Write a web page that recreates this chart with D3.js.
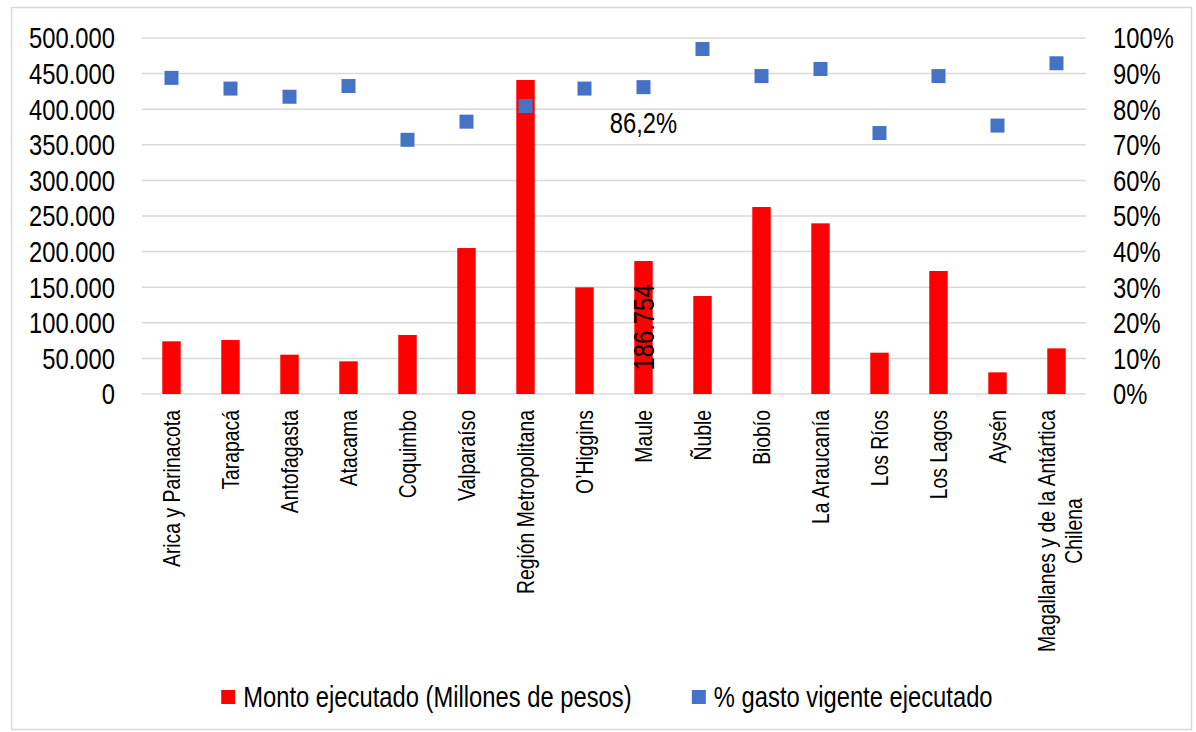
<!DOCTYPE html>
<html>
<head>
<meta charset="utf-8">
<title>Monto ejecutado y % de gasto vigente por región</title>
<script src="https://cdn.jsdelivr.net/npm/d3@7"></script>
<style>
  body { margin: 0; background: #fff; }
  svg text { font-family: "Liberation Sans", Arial, sans-serif; fill: #000; }
</style>
</head>
<body>
<svg width="1196" height="732"></svg>
<script>
// datos
var regiones = ["Arica y Parinacota", "Tarapacá", "Antofagasta", "Atacama", "Coquimbo", "Valparaíso",
  "Región Metropolitana", "O’Higgins", "Maule", "Ñuble", "Biobío", "La Araucanía", "Los Ríos",
  "Los Lagos", "Aysén", "Magallanes y de la Antártica Chilena"];
var montoEjecutado = [74000, 75800, 55200, 45900, 82900, 205000, 441000, 149800, 186754,
  137600, 262600, 239700, 58000, 172800, 30400, 64100];
var pctEjecutado = [0.888, 0.858, 0.835, 0.865, 0.714, 0.765, 0.809, 0.858, 0.862,
  0.969, 0.893, 0.913, 0.733, 0.893, 0.754, 0.929];
var ticksMonto = [0, 50000, 100000, 150000, 200000, 250000, 300000, 350000, 400000, 450000, 500000];
var ticksPct = [0, 0.1, 0.2, 0.3, 0.4, 0.5, 0.6, 0.7, 0.8, 0.9, 1];
var series = ["Monto ejecutado (Millones de pesos)", "% gasto vigente ejecutado"];
var regionEtiquetada = "Maule";   // solo esta region lleva etiquetas de datos

var rojo = "#ff0000", azul = "#4472c4", gris = "#d9d9d9";
var angosto = 0.82;   // no hay Arial Narrow: se comprime Liberation Sans a lo ancho

var svg = d3.select("svg");

// pasa x,y del texto a un translate y lo comprime a lo largo de su linea base
function estrecho(sel) {
  sel.each(function() {
    var t = d3.select(this);
    var tx = +t.attr("x") || 0, ty = +t.attr("y") || 0;
    var prev = t.attr("transform") || "";
    t.attr("x", 0).attr("y", 0)
     .attr("transform", prev + " translate(" + tx + "," + ty + ") scale(" + angosto + ",1)");
  });
}

var es = d3.formatLocale({decimal: ",", thousands: ".", grouping: [3], currency: ["$", ""]});
var fmtMonto = es.format(",.0f"),
    fmtPctEje = es.format(".0%"),
    fmtPct = es.format(".1%");

var x = d3.scaleBand().domain(regiones).range([142, 1086]);
var y = d3.scaleLinear().domain([0, 500000]).range([394, 38]);
var y2 = d3.scaleLinear().domain([0, 1]).range([394, 38]);

// marco del grafico
svg.append("rect")
    .attr("x", 11.5).attr("y", 7.5)
    .attr("width", 1180).attr("height", 722)
    .attr("fill", "#fff")
    .attr("stroke", gris)
    .attr("stroke-width", 1.5);

// lineas de grilla
svg.append("g")
  .selectAll("line")
  .data(ticksMonto)
  .enter().append("line")
    .attr("x1", x.range()[0]).attr("x2", x.range()[1])
    .attr("y1", function(d) { return y(d); })
    .attr("y2", function(d) { return y(d); })
    .attr("stroke", gris)
    .attr("stroke-width", 1.5);

// eje izquierdo
var ejeIzq = svg.append("g")
    .attr("transform", "translate(" + x.range()[0] + ",0)")
    .call(d3.axisLeft(y).tickValues(ticksMonto).tickSize(0).tickPadding(27).tickFormat(fmtMonto));
ejeIzq.select(".domain").remove();
ejeIzq.attr("font-family", null).attr("font-size", null);
ejeIzq.selectAll("text").attr("font-size", 29).attr("dy", "0.34em").call(estrecho);

// eje derecho
var ejeDer = svg.append("g")
    .attr("transform", "translate(" + x.range()[1] + ",0)")
    .call(d3.axisRight(y2).tickValues(ticksPct).tickSize(0).tickPadding(27).tickFormat(fmtPctEje));
ejeDer.select(".domain").remove();
ejeDer.attr("font-family", null).attr("font-size", null);
ejeDer.selectAll("text").attr("font-size", 29).attr("dy", "0.34em").call(estrecho);

// barras
var anchoBarra = x.bandwidth() / 3.2;
svg.append("g")
  .selectAll("rect")
  .data(regiones)
  .enter().append("rect")
    .attr("x", function(d) { return x(d) + (x.bandwidth() - anchoBarra) / 2; })
    .attr("y", function(d, i) { return y(montoEjecutado[i]); })
    .attr("width", anchoBarra)
    .attr("height", function(d, i) { return y(0) - y(montoEjecutado[i]); })
    .attr("fill", rojo);

// marcadores cuadrados (% ejecutado)
var lado = 14;
svg.append("g")
  .selectAll("rect")
  .data(regiones)
  .enter().append("rect")
    .attr("x", function(d) { return x(d) + x.bandwidth() / 2 - lado / 2; })
    .attr("y", function(d, i) { return y2(pctEjecutado[i]) - lado / 2; })
    .attr("width", lado)
    .attr("height", lado)
    .attr("fill", azul);

// etiquetas de datos
var iEt = regiones.indexOf(regionEtiquetada);
var cxEt = x(regionEtiquetada) + x.bandwidth() / 2;
svg.append("text")
    .attr("x", cxEt)
    .attr("y", y2(pctEjecutado[iEt]) + 46)
    .attr("text-anchor", "middle")
    .attr("font-size", 29)
    .text(fmtPct(pctEjecutado[iEt]))
    .call(estrecho);
svg.append("text")
    .attr("transform", "translate(" + cxEt + "," + (y(montoEjecutado[iEt]) + y(0)) / 2 + ") rotate(-90)")
    .attr("text-anchor", "middle")
    .attr("dy", "0.35em")
    .attr("font-size", 29)
    .text(fmtMonto(montoEjecutado[iEt]))
    .call(estrecho);

// etiquetas de categorias (verticales)
var lineas = regiones.map(function(r) {
  return r === "Magallanes y de la Antártica Chilena" ? ["Magallanes y de la Antártica", "Chilena"] : [r];
});
var cat = svg.append("g")
  .selectAll("g")
  .data(regiones)
  .enter().append("g")
    .attr("transform", function(d) { return "translate(" + (x(d) + x.bandwidth() / 2) + ",410) rotate(-90)"; });
cat.each(function(d, i) {
  var g = d3.select(this), ls = lineas[i], n = ls.length;
  var t = ls.map(function(l, j) {
    return g.append("text")
        .attr("font-size", 23.6)
        .attr("y", 8 + j * 27 - (n - 1) * 10)
        .text(l);
  });
  if (n === 1) {
    t[0].attr("text-anchor", "end");
  } else {
    var largo = d3.max(t, function(s) { return s.node().getComputedTextLength(); }) * angosto;
    t.forEach(function(s) { s.attr("text-anchor", "middle").attr("x", -largo / 2); });
  }
  t.forEach(function(s) { s.call(estrecho); });
});

// leyenda
var leyenda = svg.append("g");
var colores = [rojo, azul];
var px = 0;
series.forEach(function(s, i) {
  var it = leyenda.append("g").attr("transform", "translate(" + px + ",0)");
  it.append("rect").attr("x", 0).attr("y", -7).attr("width", 14).attr("height", 14).attr("fill", colores[i]);
  var t = it.append("text").attr("x", 22).attr("dy", "0.35em").attr("font-size", 29).text(s);
  var w = t.node().getComputedTextLength() * angosto;
  t.call(estrecho);
  px += 22 + w + 60;
});
var anchoLey = px - 60;
leyenda.attr("transform", "translate(" + (607 - anchoLey / 2) + ",697)");
</script>
</body>
</html>
